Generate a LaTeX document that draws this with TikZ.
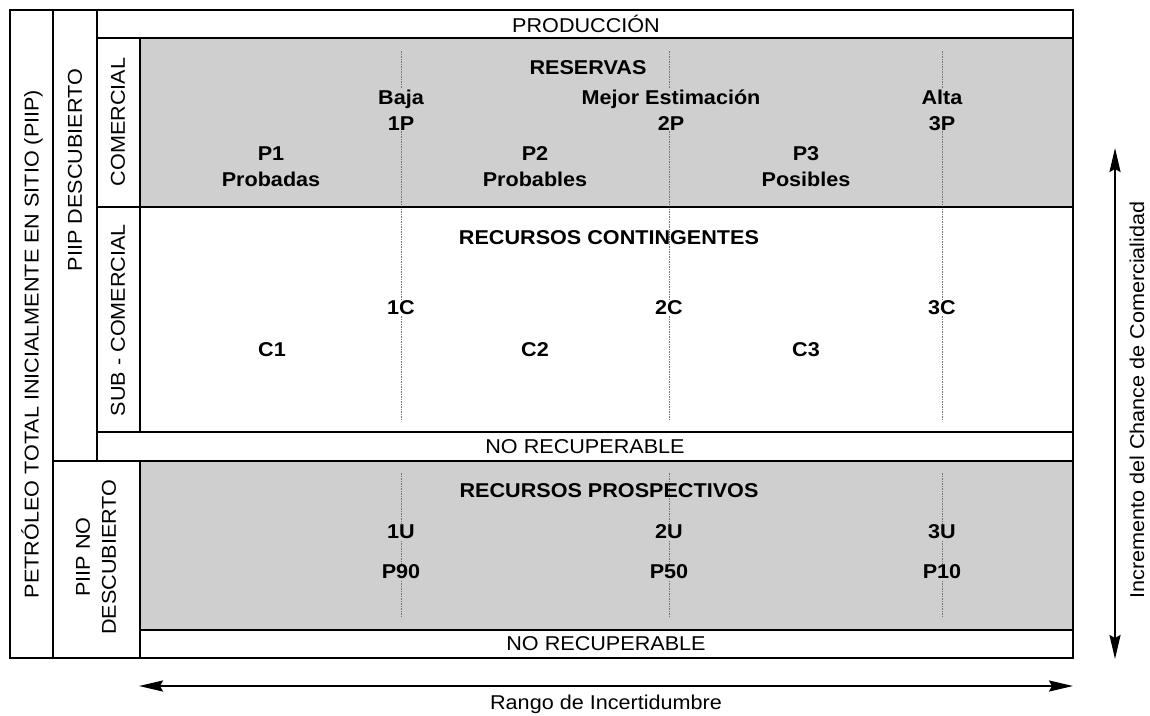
\documentclass[tikz,border=0pt]{standalone}
\usepackage{fontspec}
\setmainfont{Liberation Sans}[FakeStretch=1.08]
\usetikzlibrary{arrows.meta}
\definecolor{panel}{RGB}{207,207,207}
\begin{document}
\begin{tikzpicture}[x=1pt,y=-1pt,
  frame/.style={draw=black,line width=2.6pt},
  guide/.style={draw=black!55,line width=0.9pt,dash pattern=on 1.6pt off 0.9pt},
  lbl/.style={font=\fontsize{20}{26}\selectfont,inner sep=1pt,align=center},
  blbl/.style={font=\fontsize{20}{26}\selectfont\bfseries,inner sep=1pt,align=center},
  ong/.style={fill=panel},
  onw/.style={fill=white},
  dbl/.style={{Stealth[length=24pt,width=11pt,inset=3pt]}-{Stealth[length=24pt,width=11pt,inset=3pt]},line width=2.2pt}
]
\useasboundingbox (0,0) rectangle (1150,715);
% grey panels
\fill[panel] (140,38) rectangle (1073,207);
\fill[panel] (140,461) rectangle (1073,630);
% guide lines
\foreach \gx/\n in {401/a,669/b,942/c}{
  \coordinate (t\n) at (\gx,51);
  \coordinate (m\n) at (\gx,420);
  \coordinate (u\n) at (\gx,473);
  \coordinate (v\n) at (\gx,618);
  \draw[guide] (t\n) -- (m\n);
  \draw[guide] (u\n) -- (v\n);
}
% frame
\draw[frame] (10,10) rectangle (1073,658);
\draw[frame] (53,10) -- (53,658);
\draw[frame] (97,10) -- (97,461);
\draw[frame] (140,38) -- (140,432);
\draw[frame] (140,461) -- (140,658);
\draw[frame] (97,38) -- (1073,38);
\draw[frame] (97,207) -- (1073,207);
\draw[frame] (97,432) -- (1073,432);
\draw[frame] (53,461) -- (1073,461);
\draw[frame] (140,630) -- (1073,630);
% side labels
\node[lbl,rotate=90] (piip) at (32,344) {PETRÓLEO TOTAL INICIALMENTE EN SITIO (PIIP)};
\node[lbl,rotate=90] (desc) at (75,170) {PIIP DESCUBIERTO};
\node[lbl,rotate=90] (com) at (118,122) {COMERCIAL};
\node[lbl,rotate=90] (subcom) at (118,320) {SUB - COMERCIAL};
\node[lbl,rotate=90] (nodesc) at (96,557) {PIIP NO\\DESCUBIERTO};
% top rows
\node[lbl] (prod) at (586,24) {PRODUCCIÓN};
\node[lbl] (norec1) at (585,447) {NO RECUPERABLE};
\node[lbl] (norec2) at (606,644) {NO RECUPERABLE};
% reserves
\node[blbl] (res) at (588,68) {RESERVAS};
\node[blbl,ong] (p1p) at (401,110) {Baja\\1P};
\node[blbl,ong] (p2p) at (671,110) {Mejor Estimación\\2P};
\node[blbl,ong] (p3p) at (942,110) {Alta\\3P};
\node[blbl] (pp1) at (271,167) {P1\\Probadas};
\node[blbl] (pp2) at (535,167) {P2\\Probables};
\node[blbl] (pp3) at (806,167) {P3\\Posibles};
% contingent
\node[blbl] (rc) at (609,238) {RECURSOS CONTINGENTES};
\node[blbl,onw] (c1c) at (401,308) {1C};
\node[blbl,onw] (c2c) at (669,308) {2C};
\node[blbl,onw] (c3c) at (942,308) {3C};
\node[blbl] (cc1) at (272,350) {C1};
\node[blbl] (cc2) at (535,350) {C2};
\node[blbl] (cc3) at (806,350) {C3};
% prospective
\node[blbl] (rp) at (609,491) {RECURSOS PROSPECTIVOS};
\node[blbl,ong] (u1) at (401,532) {1U};
\node[blbl,ong] (u2) at (669,532) {2U};
\node[blbl,ong] (u3) at (942,532) {3U};
\node[blbl,ong] (q90) at (401,572) {P90};
\node[blbl,ong] (q50) at (669,572) {P50};
\node[blbl,ong] (q10) at (942,572) {P10};
% arrows
\coordinate (hl) at (139,686);
\coordinate (hr) at (1073,686);
\coordinate (vt) at (1115,148);
\coordinate (vb) at (1115,659);
\draw[dbl] (hl) -- (hr);
\draw[dbl] (vt) -- (vb);
\node[lbl] (rango) at (606,704) {Rango de Incertidumbre};
\node[lbl,rotate=90,inner sep=0pt] (incr) at (1137,400) {Incremento del Chance de Comercialidad};
\end{tikzpicture}
\end{document}
